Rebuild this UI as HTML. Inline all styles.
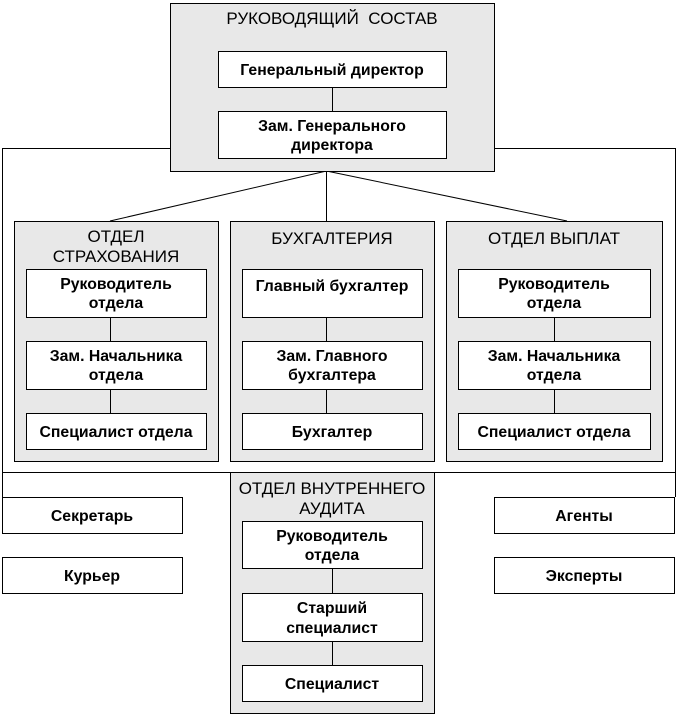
<!DOCTYPE html>
<html><head><meta charset="utf-8"><style>
html,body{margin:0;padding:0;background:#fff;width:678px;height:717px;overflow:hidden}
svg{display:block}
text{font-family:"Liberation Sans",Arial,sans-serif;fill:#000;text-anchor:middle}
.h{font-size:17px}
.b{font-size:15.8px;font-weight:bold}
</style></head><body>
<svg width="678" height="717" xmlns="http://www.w3.org/2000/svg">
<g stroke="#000" stroke-width="1" fill="none">
<polyline points="2.5,497 2.5,148.5 675.5,148.5 675.5,497"/>
<line x1="2.5" y1="472.5" x2="675.5" y2="472.5"/>
<line x1="326.5" y1="171" x2="110" y2="221"/>
<line x1="326.5" y1="171" x2="326.5" y2="221"/>
<line x1="326.5" y1="171" x2="567" y2="221"/>
</g>
<g stroke="#000" stroke-width="1">
<rect x="170.5" y="3.5" width="324" height="168" fill="#e8e8e8"/>
<rect x="14.5" y="221.5" width="204" height="240" fill="#e8e8e8"/>
<rect x="230.5" y="221.5" width="204" height="240" fill="#e8e8e8"/>
<rect x="446.5" y="221.5" width="216" height="240" fill="#e8e8e8"/>
<rect x="230.5" y="472.5" width="204" height="241" fill="#e8e8e8"/>
</g>
<g stroke="#000" stroke-width="1">
<line x1="332.5" y1="87" x2="332.5" y2="111"/>
<line x1="110.5" y1="317" x2="110.5" y2="413"/>
<line x1="326.5" y1="317" x2="326.5" y2="413"/>
<line x1="554.5" y1="317" x2="554.5" y2="413"/>
<line x1="332.5" y1="568" x2="332.5" y2="665"/>
</g>
<g stroke="#000" stroke-width="1" fill="#fff">
<rect x="218.5" y="51.5" width="228" height="36"/>
<rect x="218.5" y="111.5" width="228" height="47"/>
<rect x="26.5" y="269.5" width="180" height="48"/>
<rect x="26.5" y="341.5" width="180" height="48"/>
<rect x="26.5" y="413.5" width="180" height="36"/>
<rect x="242.5" y="269.5" width="180" height="48"/>
<rect x="242.5" y="341.5" width="180" height="48"/>
<rect x="242.5" y="413.5" width="180" height="36"/>
<rect x="458.5" y="269.5" width="192" height="48"/>
<rect x="458.5" y="341.5" width="192" height="48"/>
<rect x="458.5" y="413.5" width="192" height="36"/>
<rect x="242.5" y="521.5" width="180" height="47"/>
<rect x="242.5" y="593.5" width="180" height="48"/>
<rect x="242.5" y="665.5" width="180" height="36"/>
<rect x="2.5" y="497.5" width="180" height="36"/>
<rect x="2.5" y="557.5" width="180" height="36"/>
<rect x="494.5" y="497.5" width="180" height="36"/>
<rect x="494.5" y="557.5" width="180" height="36"/>
</g>
<text class="h" x="332" y="24" xml:space="preserve">РУКОВОДЯЩИЙ  СОСТАВ</text>
<text class="h" x="116" y="242">ОТДЕЛ</text>
<text class="h" x="116" y="262">СТРАХОВАНИЯ</text>
<text class="h" x="332" y="244">БУХГАЛТЕРИЯ</text>
<text class="h" x="554" y="244">ОТДЕЛ ВЫПЛАТ</text>
<text class="h" x="332" y="494">ОТДЕЛ ВНУТРЕННЕГО</text>
<text class="h" x="332" y="514">АУДИТА</text>
<text class="b" x="332" y="75">Генеральный директор</text>
<text class="b" x="332" y="131">Зам. Генерального</text>
<text class="b" x="332" y="150">директора</text>
<text class="b" x="116" y="289">Руководитель</text>
<text class="b" x="116" y="308">отдела</text>
<text class="b" x="116" y="361">Зам. Начальника</text>
<text class="b" x="116" y="380">отдела</text>
<text class="b" x="116" y="437">Специалист отдела</text>
<text class="b" x="332" y="291">Главный бухгалтер</text>
<text class="b" x="332" y="361">Зам. Главного</text>
<text class="b" x="332" y="380">бухгалтера</text>
<text class="b" x="332" y="437">Бухгалтер</text>
<text class="b" x="554" y="289">Руководитель</text>
<text class="b" x="554" y="308">отдела</text>
<text class="b" x="554" y="361">Зам. Начальника</text>
<text class="b" x="554" y="380">отдела</text>
<text class="b" x="554" y="437">Специалист отдела</text>
<text class="b" x="332" y="541">Руководитель</text>
<text class="b" x="332" y="560">отдела</text>
<text class="b" x="332" y="613">Старший</text>
<text class="b" x="332" y="633">специалист</text>
<text class="b" x="332" y="689">Специалист</text>
<text class="b" x="92" y="521">Секретарь</text>
<text class="b" x="92" y="581">Курьер</text>
<text class="b" x="584" y="521">Агенты</text>
<text class="b" x="584" y="581">Эксперты</text>
</svg>
</body></html>
